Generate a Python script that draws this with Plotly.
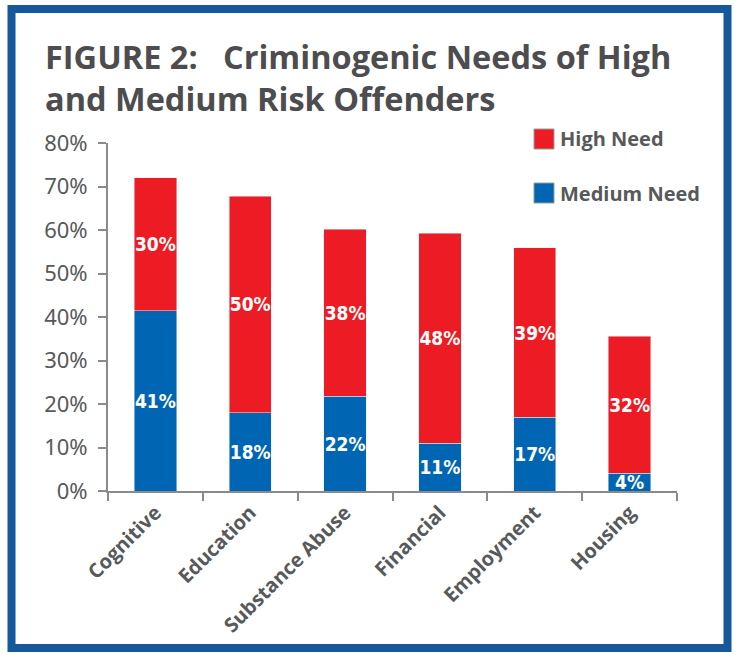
import plotly.graph_objects as go

categories = ["Cognitive", "Education", "Substance Abuse", "Financial", "Employment", "Housing"]
medium_need = [41.4, 18.0, 21.8, 11.0, 16.9, 4.1]
high_need = [30.6, 49.8, 38.4, 48.3, 39.0, 31.5]
medium_labels = ["41%", "18%", "22%", "11%", "17%", "4%"]
high_labels = ["30%", "50%", "38%", "48%", "39%", "32%"]
y_ticks = [0, 10, 20, 30, 40, 50, 60, 70, 80]
y_tick_labels = ["0%", "10%", "20%", "30%", "40%", "50%", "60%", "70%", "80%"]

RED = "#ed1c24"
BLUE = "#0066b3"
GRAY = "#58595b"
AXIS = "#8a8a8c"
BORDER = "#13599b"
COND = "DejaVu Sans Condensed, Liberation Sans Narrow, sans-serif"
SANS = "Open Sans, Noto Sans, sans-serif"

fig = go.Figure()
fig.add_trace(go.Bar(
    x=categories, y=medium_need, name="Medium Need", marker_color=BLUE,
    text=medium_labels, textposition="inside", insidetextanchor="middle",
    constraintext="none", textangle=0,
    textfont=dict(family=COND, size=19, color="white", weight="bold"),
    showlegend=False,
))
fig.add_trace(go.Bar(
    x=categories, y=high_need, name="High Need", marker_color=RED,
    text=high_labels, textposition="inside", insidetextanchor="middle",
    constraintext="none", textangle=0,
    textfont=dict(family=COND, size=19, color="white", weight="bold"),
    showlegend=False,
))

L, R, T, B = 108, 62, 143, 164
W, H = 739, 655
pw, ph = W - L - R, H - T - B

def px(x):
    return (x - L) / pw

def py(y):
    return (H - B - y) / ph

shapes = [
    dict(type="rect", xref="paper", yref="paper",
         x0=px(11.5), x1=px(727.5), y0=py(648), y1=py(9),
         line=dict(color=BORDER, width=8), fillcolor="rgba(0,0,0,0)", layer="below"),
    dict(type="rect", xref="paper", yref="paper",
         x0=px(534), x1=px(554), y0=py(149), y1=py(129),
         line=dict(color="#9a9a9a", width=1), fillcolor=RED),
    dict(type="rect", xref="paper", yref="paper",
         x0=px(534), x1=px(554), y0=py(203), y1=py(183),
         line=dict(color="#9a9a9a", width=1), fillcolor=BLUE),
]

annotations = [
    dict(text="FIGURE 2:\u00a0\u00a0 Criminogenic Needs of High<br>and Medium Risk Offenders",
         xref="paper", yref="paper", x=px(43), y=py(32), xanchor="left", yanchor="top",
         align="left", showarrow=False,
         font=dict(family=SANS, size=32.5, color="#4d4d4f", weight="bold")),
    dict(text="High Need", xref="paper", yref="paper", x=px(558), y=py(139),
         xanchor="left", yanchor="middle", showarrow=False,
         font=dict(family=SANS, size=20, color=GRAY, weight="bold")),
    dict(text="Medium Need", xref="paper", yref="paper", x=px(558), y=py(193),
         xanchor="left", yanchor="middle", showarrow=False,
         font=dict(family=SANS, size=20, color=GRAY, weight="bold")),
]

fig.update_layout(
    barmode="stack",
    bargap=0.555,
    width=W, height=H,
    margin=dict(l=L, r=R, t=T, b=B, pad=0),
    paper_bgcolor="white", plot_bgcolor="white",
    shapes=shapes,
    annotations=annotations,
    xaxis=dict(
        showline=True, linecolor=AXIS, linewidth=2,
        ticks="outside", tickson="boundaries", ticklen=8, tickwidth=2, tickcolor=AXIS,
        tickangle=-45, showgrid=False,
        tickfont=dict(family=SANS, size=20, color=GRAY, weight="bold"),
    ),
    yaxis=dict(
        range=[0, 80], tickmode="array", tickvals=y_ticks, ticktext=y_tick_labels,
        showline=True, linecolor=AXIS, linewidth=2,
        ticks="outside", ticklen=8, tickwidth=2, tickcolor=AXIS,
        ticklabelstandoff=6,
        showgrid=False, zeroline=False,
        tickfont=dict(family="Noto Sans, Open Sans, sans-serif", size=22, color=GRAY),
    ),
)

fig.write_html("out.html", config={"displayModeBar": False},
               post_script="document.body.style.margin='0';document.body.style.overflow='hidden';")
